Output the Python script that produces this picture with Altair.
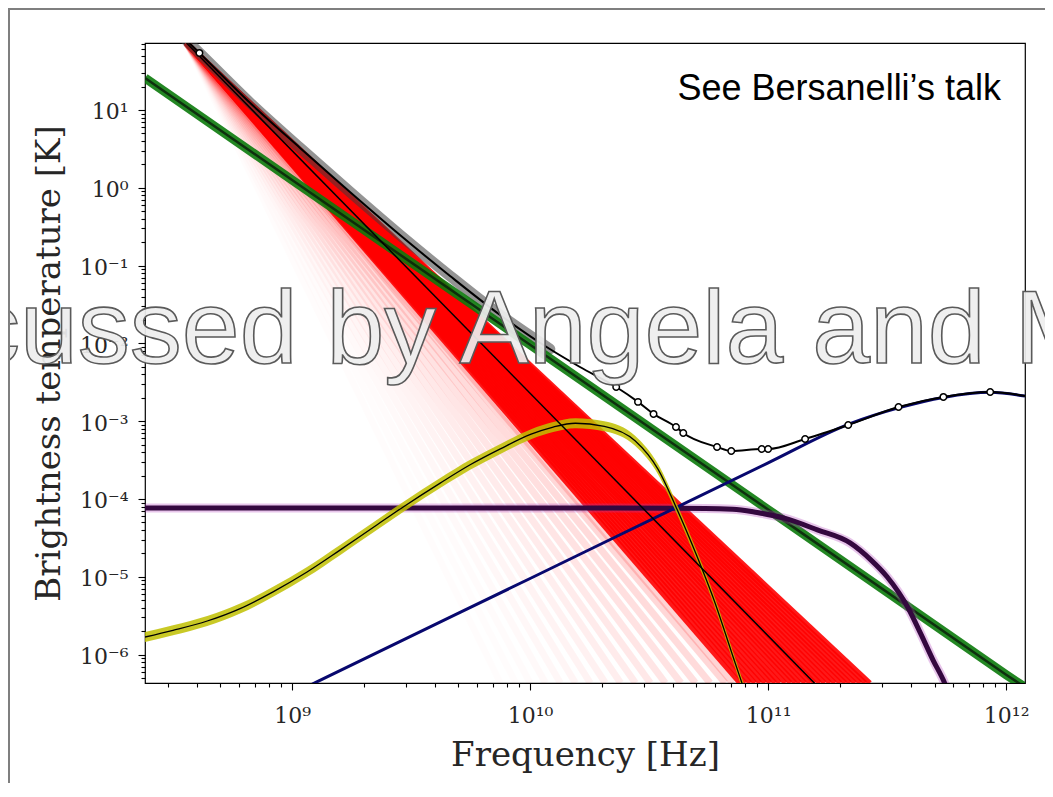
import altair as alt
import pandas as pd

# ---------------- axes ----------------
X_DOMAIN_HZ = [2.41e8, 1.20e12]
Y_DOMAIN_K = [4.31e-7, 72.6]

X_MAJOR = [1e9, 1e10, 1e11, 1e12]
X_MAJOR_LABELS = ["10⁹", "10¹⁰", "10¹¹", "10¹²"]
Y_MAJOR = [1e-6, 1e-5, 1e-4, 1e-3, 1e-2, 1e-1, 1e0, 1e1]
Y_MAJOR_LABELS = ["10⁻⁶", "10⁻⁵", "10⁻⁴", "10⁻³", "10⁻²", "10⁻¹", "10⁰", "10¹"]
MINOR_MULT = [2, 3, 4, 5, 6, 7, 8, 9]

# ---------------- series (frequency in GHz, brightness temperature in K) ----------------
total_ghz = [0.30, 0.408, 0.667, 1.08, 1.75, 2.84, 4.61, 7.48, 12.1, 16.2, 23.0, 28.4, 33.0,
             41.0, 44.0, 61.0, 70.0, 94.0, 100.0, 143.0, 217.0, 353.0, 545.0, 857.0, 1200.0]
total_k = [135.0, 54.1, 12.3, 3.25, 0.883, 0.247, 0.0735, 0.0232, 8.47e-3, 4.97e-3, 2.75e-3,
           1.77e-3, 1.24e-3, 8.42e-4, 7.05e-4, 4.66e-4, 4.14e-4, 4.39e-4, 4.39e-4, 5.90e-4,
           8.93e-4, 1.52e-3, 2.05e-3, 2.37e-3, 2.11e-3]

marker_ghz = [0.408, 23.0, 28.4, 33.0, 41.0, 44.0, 61.0, 70.0, 94.0, 100.0, 143.0, 217.0,
              353.0, 545.0, 857.0]
marker_k = [54.1, 2.75e-3, 1.77e-3, 1.24e-3, 8.42e-4, 7.05e-4, 4.66e-4, 4.14e-4, 4.39e-4,
            4.39e-4, 5.90e-4, 8.93e-4, 1.52e-3, 2.05e-3, 2.37e-3]

green_ghz = [0.241, 1.0, 10.0, 100.0, 1000.0, 1200.0]
green_k = [25.8, 1.26, 9.6e-3, 7.3e-5, 5.5e-7, 3.8e-7]

yellow_ghz = [0.241, 0.316, 0.44, 0.605, 0.832, 1.156, 1.59, 2.19, 2.93, 4.19, 5.6, 7.5,
              10.1, 12.5, 15.5, 20.5, 27.6, 34.5, 41.0, 50.0, 60.0, 70.0, 76.0, 80.0]
yellow_k = [1.68e-6, 2.05e-6, 2.7e-6, 3.9e-6, 6.4e-6, 1.15e-5, 2.2e-5, 4.3e-5, 7.9e-5,
            1.60e-4, 2.75e-4, 4.4e-4, 6.8e-4, 8.4e-4, 9.4e-4, 8.6e-4, 5.6e-4, 2.4e-4,
            7.9e-5, 1.9e-5, 4.5e-6, 1.1e-6, 5.2e-7, 3.3e-7]

purple_ghz = [0.241, 1.0, 10.0, 40.0, 71.0, 90.0, 116.0, 161.0, 221.0, 270.0, 316.0, 387.0,
              436.0, 493.0, 548.0, 600.0]
purple_k = [7.66e-5, 7.66e-5, 7.66e-5, 7.6e-5, 7.4e-5, 6.7e-5, 5.7e-5, 4.0e-5, 2.72e-5,
            1.65e-5, 1.0e-5, 4.0e-6, 1.9e-6, 8.5e-7, 4.5e-7, 2.2e-7]

blue_ghz = [1.0, 1.27, 10.0, 100.0, 221.0, 353.0, 545.0, 857.0, 1200.0]
blue_k = [3.1e-7, 4.45e-7, 9.5e-6, 2.91e-4, 9.3e-4, 1.48e-3, 2.02e-3, 2.35e-3, 2.1e-3]

sync_mean_ghz = [0.36, 200.0]
sync_mean_k = [72.6, 2.0e-7]

# red fan of synchrotron samples: common start on the top edge, each line ends on the bottom edge
fan_start_ghz = 0.36
fan_start_k = 72.6
fan_end_k = 4.31e-7
fan_dense_end_ghz = [76, 80, 84, 88, 92.5, 97, 102, 107, 112, 118, 124, 130, 136, 143, 150,
                     157, 165, 173, 182, 191, 201, 211, 221, 232, 244, 256, 268]
fan_faint_end_ghz = [7.5, 8.7, 10, 11.6, 13.4, 15.5, 17.9, 20.7, 24, 27.7, 32, 37, 43, 49.5,
                     57, 66, 71]

annotation_text = "See Bersanelli’s talk"
overlay_text = "cussed by Angela and M"

# ---------------- tables ----------------
def series(ghz, k):
    return pd.DataFrame({"nu": [g * 1e9 for g in ghz], "T": k})

df_total = series(total_ghz, total_k)
df_markers = series(marker_ghz, marker_k)
df_green = series(green_ghz, green_k)
df_yellow = series(yellow_ghz, yellow_k)
df_purple = series(purple_ghz, purple_k)
df_blue = series(blue_ghz, blue_k)
df_sync = series(sync_mean_ghz, sync_mean_k)

def fan(ends, op_lo, op_hi):
    rows = []
    n = len(ends)
    for i, e in enumerate(ends):
        op = op_lo + (op_hi - op_lo) * (i / max(n - 1, 1)) ** 1.5
        rows.append({"id": i, "nu": fan_start_ghz * 1e9, "T": fan_start_k, "op": op})
        rows.append({"id": i, "nu": e * 1e9, "T": fan_end_k, "op": op})
    return pd.DataFrame(rows)

df_fan_faint = fan(fan_faint_end_ghz, 0.01, 0.17)
df_fan_dense = fan(fan_dense_end_ghz, 0.9, 0.9)

# ---------------- scales / axes ----------------
XS = alt.Scale(type="log", domain=X_DOMAIN_HZ, nice=False)
YS = alt.Scale(type="log", domain=Y_DOMAIN_K, nice=False)

x_minor = [m * 10.0 ** e for e in range(8, 12) for m in MINOR_MULT
           if X_DOMAIN_HZ[0] <= m * 10.0 ** e <= X_DOMAIN_HZ[1]]
y_minor = [m * 10.0 ** e for e in range(-7, 2) for m in MINOR_MULT
           if Y_DOMAIN_K[0] <= m * 10.0 ** e <= Y_DOMAIN_K[1]]

def label_expr(values, labels):
    parts = [f"abs(datum.value / {v!r} - 1) < 1e-9 ? '{lab}'" for v, lab in zip(values, labels)]
    return " : ".join(parts) + " : ''"

MAJOR_TEST = "abs(log(datum.value) / LN10 - round(log(datum.value) / LN10)) < 1e-6"
TICK_SIZE = {"condition": {"test": MAJOR_TEST, "value": 7}, "value": 4}

common_axis = dict(domain=False, grid=False, tickColor="black", tickWidth=1.1,
                   labelFont="DejaVu Serif", labelFontSize=22, labelColor="#262626",
                   labelOverlap=False, labelFlush=False, labelBound=False,
                   titleFont="DejaVu Serif", titleFontSize=34, titleFontWeight="normal",
                   titleColor="#262626", tickSize=TICK_SIZE)

AX_X = alt.Axis(values=X_MAJOR + x_minor, labelExpr=label_expr(X_MAJOR, X_MAJOR_LABELS),
                orient="bottom", labelPadding=15, title="Frequency [Hz]",
                titleX=440, titleY=82, titleAlign="center", titleBaseline="alphabetic",
                **common_axis)
AX_Y = alt.Axis(values=Y_MAJOR + y_minor, labelExpr=label_expr(Y_MAJOR, Y_MAJOR_LABELS),
                orient="left", labelPadding=10, labelOffset=2, title="Brightness temperature [K]",
                titleAngle=270, titleX=-86, titleY=320, titleAlign="center",
                titleBaseline="alphabetic", **common_axis)

def enc(y="T"):
    return dict(x=alt.X("nu:Q", scale=XS, axis=AX_X), y=alt.Y(f"{y}:Q", scale=YS, axis=AX_Y))

# ---------------- layers ----------------
red_faint = alt.Chart(df_fan_faint).mark_line(clip=True, color="#ff0000", strokeWidth=7).encode(
    **enc(), detail="id:N", opacity=alt.Opacity("op:Q", scale=None))
red_dense = alt.Chart(df_fan_dense).mark_line(clip=True, color="#ff0000", strokeWidth=5).encode(
    **enc(), detail="id:N", opacity=alt.Opacity("op:Q", scale=None))

gray_band = alt.Chart(df_total).transform_filter("datum.nu <= 12.1e9").mark_line(
    clip=True, color="#3c3c3c", opacity=0.55, strokeWidth=11, interpolate="monotone",
    strokeCap="round").encode(**enc())

green_band = alt.Chart(df_green).mark_line(clip=True, color="#0b7a0b", opacity=0.9,
                                           strokeWidth=9).encode(**enc())
green_core = alt.Chart(df_green).mark_line(clip=True, color="#0a200a", opacity=0.85,
                                           strokeWidth=2.5).encode(**enc())

purple_band = alt.Chart(df_purple).mark_line(clip=True, color="#b040b8", opacity=0.3,
                                             strokeWidth=9, interpolate="monotone").encode(**enc())
purple_core = alt.Chart(df_purple).mark_line(clip=True, color="#34083f", strokeWidth=5,
                                             interpolate="monotone").encode(**enc())

blue_line = alt.Chart(df_blue).mark_line(clip=True, color="#08086e", strokeWidth=3,
                                         interpolate="monotone").encode(**enc())

yellow_band = alt.Chart(df_yellow).transform_calculate(
    lo="datum.T / 1.16", hi="datum.T * 1.16").mark_area(
    clip=True, color="#bfbf00", opacity=0.85, interpolate="monotone").encode(
    x=alt.X("nu:Q", scale=XS, axis=AX_X), y=alt.Y("lo:Q", scale=YS, axis=AX_Y), y2="hi:Q")
yellow_core = alt.Chart(df_yellow).mark_line(clip=True, color="black", strokeWidth=1.3,
                                             interpolate="monotone").encode(**enc())

sync_line = alt.Chart(df_sync).mark_line(clip=True, color="black", strokeWidth=1.5).encode(**enc())

total_line = alt.Chart(df_total).mark_line(clip=True, color="black", strokeWidth=2,
                                           interpolate="monotone").encode(**enc())
total_pts = alt.Chart(df_markers).mark_point(clip=True, shape="circle", filled=True, fill="white",
                                             stroke="black", strokeWidth=1.5, size=42,
                                             opacity=1).encode(**enc())

one = pd.DataFrame({"t": [annotation_text]})
see_text = alt.Chart(one).mark_text(align="right", baseline="alphabetic", font="Liberation Sans",
                                    fontSize=36, color="black").encode(
    text="t:N", x=alt.value(856), y=alt.value(57))

two = pd.DataFrame({"t": [overlay_text]})
big_text = alt.Chart(two).mark_text(align="left", baseline="alphabetic", font="Liberation Sans",
                                    fontSize=104, fill="#eeeeee", fillOpacity=0.93,
                                    stroke="#5a5a5a", strokeWidth=1.6).encode(
    text="t:N", x=alt.value(-177), y=alt.value(320))

frame = alt.Chart(pd.DataFrame({"a": [0]})).mark_rect(
    fill="transparent", stroke="#7f7f7f", strokeWidth=2).encode(
    x=alt.value(-136), y=alt.value(-34), x2=alt.value(1200), y2=alt.value(1000))

chart = alt.layer(
    red_faint, red_dense, gray_band, green_band, green_core, purple_band, purple_core,
    blue_line, yellow_band, yellow_core, sync_line, total_line, total_pts,
    see_text, big_text, frame
).properties(
    width=880, height=640,
    padding={"left": 137, "top": 35, "right": 20, "bottom": 100},
    autosize=alt.AutoSizeParams(type="none"),
    background="white",
).configure_view(stroke="black", strokeWidth=1.2)

chart.save("out.html", embed_options={"renderer": "svg", "actions": False})
